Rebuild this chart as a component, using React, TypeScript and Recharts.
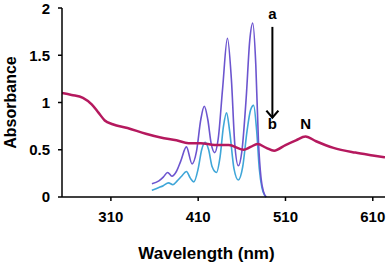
import { LineChart, Line, XAxis, YAxis, ReferenceLine, ReferenceDot, Label } from 'recharts';

// x-axis ticks (nm) and y-axis ticks (absorbance)
const wavelengthTicks = [310, 410, 510, 610];
const absorbanceTicks = [0, 0.5, 1, 1.5, 2];

// N spectrum (red)
const nmN = [254, 265, 278, 288, 296, 303, 312, 329, 350, 367, 385, 399, 413, 429, 445, 462, 470, 478, 488, 497, 510, 522, 533, 545, 565, 590, 610, 624];
const absN = [1.1, 1.08, 1.05, 0.98, 0.89, 0.81, 0.77, 0.73, 0.67, 0.63, 0.6, 0.57, 0.57, 0.55, 0.55, 0.5, 0.53, 0.56, 0.52, 0.49, 0.55, 0.6, 0.64, 0.59, 0.52, 0.47, 0.44, 0.42];

// curve a (purple)
const nmA = [357, 365, 370, 375, 380, 385, 390, 396.5, 403, 408, 413, 417, 421, 425, 429, 433, 438, 443.5, 448, 452, 456, 460, 465, 469, 472.5, 476, 479, 482, 485, 488];
const absA = [0.14, 0.17, 0.21, 0.26, 0.22, 0.27, 0.38, 0.53, 0.35, 0.48, 0.82, 0.96, 0.82, 0.56, 0.47, 0.62, 1.15, 1.68, 1.25, 0.55, 0.33, 0.48, 1.05, 1.65, 1.84, 1.4, 0.6, 0.2, 0.05, 0];

// curve b (teal)
const nmB = [357, 365, 370, 376, 381, 386, 391, 396.5, 401, 405, 410, 414, 418, 422, 426, 431, 435, 439, 442.5, 446, 451, 456, 461, 466, 470, 473.5, 477, 480, 483, 486, 488];
const absB = [0.07, 0.1, 0.12, 0.15, 0.13, 0.17, 0.22, 0.27, 0.2, 0.16, 0.3, 0.5, 0.58, 0.5, 0.32, 0.26, 0.42, 0.75, 0.89, 0.7, 0.3, 0.18, 0.32, 0.7, 0.92, 0.97, 0.7, 0.3, 0.1, 0.02, 0];

const toPoints = (xs: number[], ys: number[]) => xs.map((x, i) => ({ x, y: ys[i] }));

const tickStyle = { fontSize: 15, fontWeight: 700, fill: '#000', fontFamily: 'Arial, "Liberation Sans", sans-serif' };

const Arrow = (props: any) => {
  const { x1, y1, x2, y2 } = props;
  return (
    <g>
      <line x1={x1} y1={y1} x2={x2} y2={y2} stroke="#000" strokeWidth={2} />
      <polyline points={`${x2 - 6},${y2 - 7} ${x2},${y2} ${x2 + 6},${y2 - 7}`} fill="none" stroke="#000" strokeWidth={2.2} />
    </g>
  );
};

const textDot = (txt: string) => (props: any) => (
  <text x={props.cx} y={props.cy} textAnchor="middle" fontSize={15} fontWeight={700} fontFamily='Arial, "Liberation Sans", sans-serif' fill="#000">
    {txt}
  </text>
);

export default function App() {
  return (
    <div style={{ position: 'absolute', left: 0, top: 0, background: '#fff' }}>
      <LineChart width={392} height={262} margin={{ top: 8, right: 7, left: 0, bottom: 0 }} style={{ fontFamily: 'Arial, "Liberation Sans", sans-serif' }}>
        <XAxis
          type="number"
          dataKey="x"
          domain={[254, 624]}
          ticks={wavelengthTicks}
          allowDataOverflow
          height={65}
          tick={tickStyle}
          tickSize={4}
          tickMargin={10}
          axisLine={{ stroke: '#000', strokeWidth: 1.5 }}
          tickLine={{ stroke: '#000', strokeWidth: 1.5 }}
        >
          <Label value="Wavelength (nm)" position="insideBottom" offset={3} dx={-17} style={{ fontSize: 17, fontWeight: 700, fill: '#000' }} />
        </XAxis>
        <YAxis
          type="number"
          dataKey="y"
          domain={[0, 2]}
          ticks={absorbanceTicks}
          width={62}
          tick={tickStyle}
          tickSize={4}
          tickMargin={8}
          axisLine={{ stroke: '#000', strokeWidth: 1.5 }}
          tickLine={{ stroke: '#000', strokeWidth: 1.5 }}
        >
          <Label
            content={({ viewBox }: any) => (
              <text
                x={viewBox.x + 16}
                y={viewBox.y + viewBox.height / 2}
                transform={`rotate(-90 ${viewBox.x + 16} ${viewBox.y + viewBox.height / 2})`}
                textAnchor="middle"
                fontSize={16}
                fontWeight={700}
                fill="#000"
              >
                Absorbance
              </text>
            )}
          />
        </YAxis>
        <Line data={toPoints(nmB, absB)} dataKey="y" type="monotone" stroke="#3fa6d8" strokeWidth={1.6} dot={false} isAnimationActive={false} />
        <Line data={toPoints(nmA, absA)} dataKey="y" type="monotone" stroke="#6c55cf" strokeWidth={1.6} dot={false} isAnimationActive={false} />
        <Line data={toPoints(nmN, absN)} dataKey="y" type="monotone" stroke="#b5195e" strokeWidth={2.5} dot={false} isAnimationActive={false} />
        <ReferenceLine segment={[{ x: 495, y: 1.8 }, { x: 495, y: 0.84 }]} shape={Arrow} />
        <ReferenceDot x={495} y={1.88} r={0} shape={textDot('a')} />
        <ReferenceDot x={495} y={0.72} r={0} shape={textDot('b')} />
        <ReferenceDot x={533} y={0.72} r={0} shape={textDot('N')} />
      </LineChart>
    </div>
  );
}
